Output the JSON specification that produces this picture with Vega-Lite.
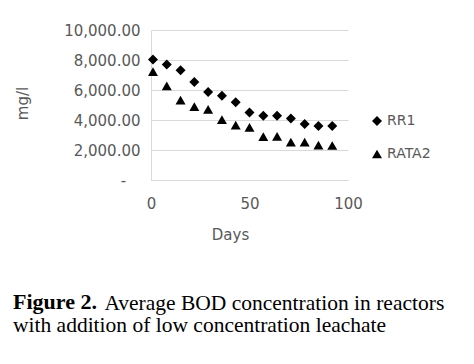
{
  "$schema": "https://vega.github.io/schema/vega-lite/v6.json",
  "width": 197,
  "height": 150,
  "autosize": "none",
  "padding": {"left": 151, "top": 30, "right": 126, "bottom": 184},
  "background": "white",
  "data": {
    "values": [
      {"day": 1, "bod": 8040, "reactor": "RR1"},
      {"day": 8, "bod": 7700, "reactor": "RR1"},
      {"day": 15, "bod": 7320, "reactor": "RR1"},
      {"day": 22, "bod": 6530, "reactor": "RR1"},
      {"day": 29, "bod": 5860, "reactor": "RR1"},
      {"day": 36, "bod": 5610, "reactor": "RR1"},
      {"day": 43, "bod": 5180, "reactor": "RR1"},
      {"day": 50, "bod": 4500, "reactor": "RR1"},
      {"day": 57, "bod": 4280, "reactor": "RR1"},
      {"day": 64, "bod": 4280, "reactor": "RR1"},
      {"day": 71, "bod": 4100, "reactor": "RR1"},
      {"day": 78, "bod": 3730, "reactor": "RR1"},
      {"day": 85, "bod": 3600, "reactor": "RR1"},
      {"day": 92, "bod": 3600, "reactor": "RR1"},
      {"day": 1, "bod": 7220, "reactor": "RATA2"},
      {"day": 8, "bod": 6270, "reactor": "RATA2"},
      {"day": 15, "bod": 5330, "reactor": "RATA2"},
      {"day": 22, "bod": 4890, "reactor": "RATA2"},
      {"day": 29, "bod": 4710, "reactor": "RATA2"},
      {"day": 36, "bod": 4030, "reactor": "RATA2"},
      {"day": 43, "bod": 3660, "reactor": "RATA2"},
      {"day": 50, "bod": 3510, "reactor": "RATA2"},
      {"day": 57, "bod": 2890, "reactor": "RATA2"},
      {"day": 64, "bod": 2910, "reactor": "RATA2"},
      {"day": 71, "bod": 2530, "reactor": "RATA2"},
      {"day": 78, "bod": 2530, "reactor": "RATA2"},
      {"day": 85, "bod": 2330, "reactor": "RATA2"},
      {"day": 92, "bod": 2300, "reactor": "RATA2"}
    ]
  },
  "mark": {"type": "point", "filled": true, "size": 100, "opacity": 1, "color": "black"},
  "encoding": {
    "x": {
      "field": "day",
      "type": "quantitative",
      "scale": {"domain": [0, 100], "nice": false},
      "axis": {
        "values": [0, 50, 100],
        "title": "Days",
        "grid": false,
        "domain": true,
        "domainColor": "#d9d9d9",
        "ticks": false,
        "tickSize": 0,
        "labelFlush": false,
        "labelPadding": 23,
        "labelBaseline": "middle",
        "labelFont": "DejaVu Sans",
        "labelFontSize": 15,
        "labelColor": "#595959",
        "titleFont": "DejaVu Sans",
        "titleFontSize": 15,
        "titleFontWeight": "normal",
        "titleColor": "#595959",
        "titleX": 79,
        "titleY": 59,
        "titleAlign": "center",
        "titleBaseline": "alphabetic"
      }
    },
    "y": {
      "field": "bod",
      "type": "quantitative",
      "scale": {"domain": [0, 10000], "nice": false},
      "axis": {
        "values": [0, 2000, 4000, 6000, 8000, 10000],
        "labelExpr": "datum.value == 0 ? '-\u00a0\u00a0\u00a0\u200b' : format(datum.value, ',.2f')",
        "title": "mg/l",
        "grid": true,
        "gridColor": "#d9d9d9",
        "gridWidth": 1,
        "domain": true,
        "domainColor": "#d9d9d9",
        "ticks": false,
        "tickSize": 0,
        "labelFlush": false,
        "labelPadding": 11,
        "labelFont": "DejaVu Sans",
        "labelFontSize": 15,
        "labelColor": "#595959",
        "titleFont": "DejaVu Sans",
        "titleFontSize": 15,
        "titleFontWeight": "normal",
        "titleColor": "#595959",
        "titleAngle": -90,
        "titleX": -124,
        "titleY": 73,
        "titleAlign": "center",
        "titleBaseline": "alphabetic"
      }
    },
    "shape": {
      "field": "reactor",
      "type": "nominal",
      "scale": {"domain": ["RR1", "RATA2"], "range": ["diamond", "triangle-up"]},
      "legend": {
        "title": null,
        "orient": "none",
        "legendX": 219,
        "legendY": 84,
        "padding": 0,
        "symbolSize": 100,
        "symbolFillColor": "black",
        "symbolStrokeColor": "black",
        "symbolStrokeWidth": 0,
        "labelFont": "DejaVu Sans",
        "labelFontSize": 14,
        "labelColor": "#595959",
        "labelOffset": 3,
        "rowPadding": 19
      }
    }
  },
  "title": {
    "text": "Figure 2.",
    "subtitle": [
      "\u200b\u00a0\u00a0\u00a0\u00a0\u00a0\u00a0\u00a0\u00a0\u00a0\u00a0\u00a0\u00a0\u00a0\u00a0\u00a0\u00a0\u00a0Average BOD concentration in reactors",
      "with addition of low concentration leachate"
    ],
    "orient": "bottom",
    "anchor": "start",
    "frame": "group",
    "dx": -138,
    "offset": 50,
    "font": "Liberation Serif",
    "fontSize": 22,
    "fontWeight": "bold",
    "color": "black",
    "subtitleFont": "Liberation Serif",
    "subtitleFontSize": 21.5,
    "subtitleFontWeight": "normal",
    "subtitleColor": "black",
    "subtitlePadding": -21.5,
    "subtitleLineHeight": 22
  },
  "config": {
    "view": {"stroke": null}
  }
}
